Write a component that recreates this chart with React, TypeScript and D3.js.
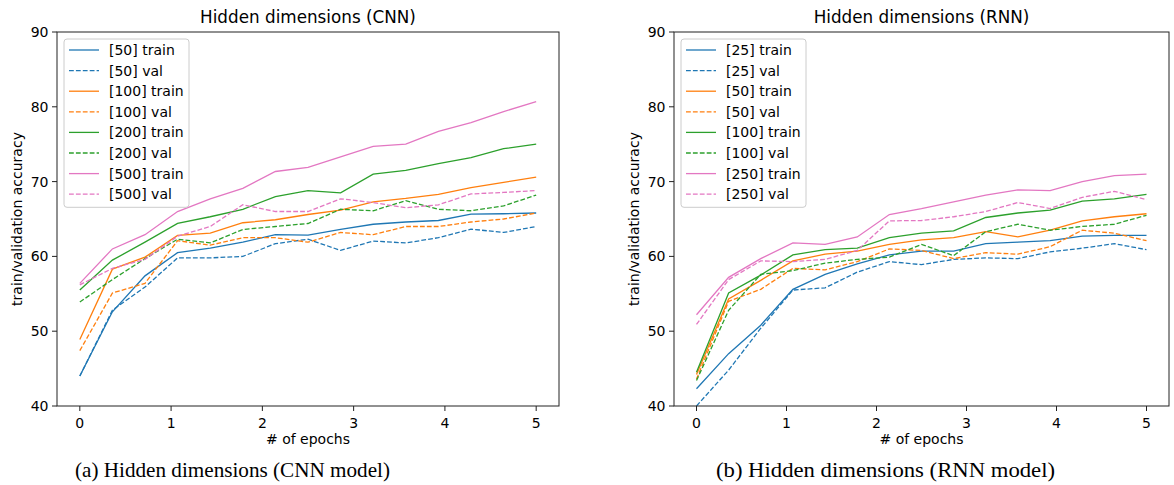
import React from "react";
import * as d3 from "d3";

const epochs = [0, 0.357, 0.714, 1.071, 1.429, 1.786, 2.143, 2.5, 2.857, 3.214, 3.571, 3.929, 4.286, 4.643, 5];
const xTicks = [0, 1, 2, 3, 4, 5];
const yTicks = [40, 50, 60, 70, 80, 90];

const cnnLabels = ["[50]", "[100]", "[200]", "[500]"];
const cnn50Train = [44.0, 52.6, 57.4, 60.5, 61.1, 61.9, 62.9, 62.85, 63.6, 64.3, 64.6, 64.8, 65.65, 65.7, 65.8];
const cnn50Val = [44.0, 52.8, 55.9, 59.8, 59.8, 60.0, 61.7, 62.3, 60.8, 62.05, 61.8, 62.5, 63.65, 63.2, 64.0];
const cnn100Train = [48.9, 58.3, 59.9, 62.8, 63.1, 64.5, 64.9, 65.6, 66.2, 67.3, 67.75, 68.3, 69.2, 69.9, 70.6];
const cnn100Val = [47.4, 55.1, 56.4, 62.1, 61.5, 62.5, 62.5, 61.9, 63.2, 62.9, 64.0, 64.0, 64.6, 65.0, 65.8];
const cnn200Train = [55.5, 59.5, 61.9, 64.4, 65.3, 66.3, 68.0, 68.8, 68.5, 71.0, 71.5, 72.4, 73.2, 74.4, 75.0];
const cnn200Val = [53.9, 56.9, 59.7, 62.3, 61.8, 63.6, 64.0, 64.4, 66.3, 66.1, 67.45, 66.3, 66.1, 66.75, 68.2];
const cnn500Train = [56.4, 61.0, 62.9, 66.0, 67.7, 69.1, 71.35, 71.9, 73.3, 74.7, 75.0, 76.7, 77.9, 79.35, 80.7];
const cnn500Val = [56.2, 58.4, 59.6, 62.7, 64.0, 66.9, 66.0, 66.0, 67.7, 67.2, 66.5, 66.9, 68.35, 68.55, 68.8];

const rnnLabels = ["[25]", "[50]", "[100]", "[250]"];
const rnn25Train = [42.3, 47.0, 50.8, 55.6, 57.6, 59.0, 60.2, 60.7, 60.7, 61.7, 61.9, 62.1, 62.7, 62.8, 62.8];
const rnn25Val = [40.0, 44.8, 50.4, 55.5, 55.8, 57.9, 59.3, 58.9, 59.6, 59.8, 59.7, 60.6, 61.1, 61.7, 60.9];
const rnn50Train = [44.2, 54.3, 56.8, 59.4, 60.3, 60.7, 61.6, 62.2, 62.5, 63.3, 62.6, 63.5, 64.75, 65.3, 65.7];
const rnn50Val = [43.6, 54.0, 55.6, 58.4, 58.2, 59.3, 61.0, 60.8, 59.7, 60.5, 60.3, 61.3, 63.5, 63.1, 62.1];
const rnn100Train = [44.5, 55.1, 57.5, 60.2, 60.9, 61.1, 62.5, 63.1, 63.4, 65.2, 65.8, 66.2, 67.4, 67.7, 68.3];
const rnn100Val = [43.4, 52.8, 57.6, 58.1, 59.1, 59.6, 59.9, 61.6, 60.1, 63.3, 64.3, 63.5, 64.0, 64.3, 65.5];
const rnn250Train = [52.2, 57.2, 59.7, 61.8, 61.6, 62.6, 65.6, 66.4, 67.3, 68.2, 68.9, 68.8, 70.0, 70.8, 71.0];
const rnn250Val = [50.9, 56.9, 59.4, 59.3, 59.6, 60.8, 64.75, 64.8, 65.3, 66.0, 67.2, 66.4, 67.9, 68.7, 67.6];

const colors = ["#1f77b4", "#ff7f0e", "#2ca02c", "#e377c2"];
const FONT = "DejaVu Sans, sans-serif";

type Series = { label: string; color: string; dashed: boolean; values: number[] };

function buildSeries(labels: string[], data: number[][]): Series[] {
  const out: Series[] = [];
  labels.forEach((l, k) => {
    out.push({ label: `${l} train`, color: colors[k], dashed: false, values: data[k * 2] });
    out.push({ label: `${l} val`, color: colors[k], dashed: true, values: data[k * 2 + 1] });
  });
  return out;
}

const cnnSeries = buildSeries(cnnLabels, [cnn50Train, cnn50Val, cnn100Train, cnn100Val, cnn200Train, cnn200Val, cnn500Train, cnn500Val]);
const rnnSeries = buildSeries(rnnLabels, [rnn25Train, rnn25Val, rnn50Train, rnn50Val, rnn100Train, rnn100Val, rnn250Train, rnn250Val]);

function Panel({ x0, x1, title, series }: { x0: number; x1: number; title: string; series: Series[] }) {
  const y0 = 32, y1 = 406;
  const xs = d3.scaleLinear().domain([-0.25, 5.25]).range([x0, x1]);
  const ys = d3.scaleLinear().domain([40, 90]).range([y1, y0]);
  const line = d3.line<number>().x((_, i) => xs(epochs[i])).y((v) => ys(v));
  const cx = (x0 + x1) / 2;
  const lx = x0 + 7;
  return (
    <g>
      <defs>
        <clipPath id={`clip-${x0}`}>
          <rect x={x0} y={y0} width={x1 - x0} height={y1 - y0} />
        </clipPath>
      </defs>
      <g clipPath={`url(#clip-${x0})`}>
        {series.map((s, i) => (
          <path key={i} d={line(s.values) || ""} fill="none" stroke={s.color} strokeWidth={1.3}
            strokeDasharray={s.dashed ? "4.8,2.1" : undefined} />
        ))}
      </g>
      <rect x={x0} y={y0} width={x1 - x0} height={y1 - y0} fill="none" stroke="#222" strokeWidth={1} />
      {yTicks.map((t) => (
        <g key={t}>
          <line x1={x0 - 5} x2={x0} y1={ys(t)} y2={ys(t)} stroke="#222" strokeWidth={1} />
          <text x={x0 - 8.5} y={ys(t)} dy="0.36em" textAnchor="end" fontFamily={FONT} fontSize={14} fill="#000">{t}</text>
        </g>
      ))}
      {xTicks.map((t) => (
        <g key={t}>
          <line x1={xs(t)} x2={xs(t)} y1={y1} y2={y1 + 5} stroke="#222" strokeWidth={1} />
          <text x={xs(t)} y={427.5} textAnchor="middle" fontFamily={FONT} fontSize={14} fill="#000">{t}</text>
        </g>
      ))}
      <text x={cx} y={23} textAnchor="middle" fontFamily={FONT} fontSize={16.8} fill="#000">{title}</text>
      <text x={cx} y={444} textAnchor="middle" fontFamily={FONT} fontSize={14} fill="#000"># of epochs</text>
      <text transform={`translate(${x0 - 40},${(y0 + y1) / 2}) rotate(-90)`} textAnchor="middle" dy="0.36em"
        fontFamily={FONT} fontSize={14} fill="#000">train/validation accuracy</text>
      <rect x={lx} y={39} width={125} height={168.3} rx={3} fill="#fff" fillOpacity={0.8} stroke="#ccc" strokeWidth={1} />
      {series.map((s, k) => {
        const ry = 50 + k * 20.6;
        return (
          <g key={k}>
            <line x1={lx + 5} x2={lx + 35} y1={ry} y2={ry} stroke={s.color} strokeWidth={1.3}
              strokeDasharray={s.dashed ? "4.8,2.1" : undefined} />
            <text x={lx + 45} y={ry} dy="0.36em" fontFamily={FONT} fontSize={14} fill="#000">{s.label}</text>
          </g>
        );
      })}
    </g>
  );
}

export default function App() {
  return (
    <svg width={1174} height={485} style={{ position: "absolute", left: 0, top: 0, background: "#fff" }}>
      <rect width={1174} height={485} fill="#fff" />
      <Panel x0={57} x1={559} title="Hidden dimensions (CNN)" series={cnnSeries} />
      <Panel x0={674} x1={1169} title="Hidden dimensions (RNN)" series={rnnSeries} />
      <text x={75} y={477} textLength={315} lengthAdjust="spacingAndGlyphs" fontFamily="Liberation Serif, serif" fontSize={21} fill="#000">(a) Hidden dimensions (CNN model)</text>
      <text x={716} y={477} textLength={339} lengthAdjust="spacingAndGlyphs" fontFamily="Liberation Serif, serif" fontSize={21} fill="#000">(b) Hidden dimensions (RNN model)</text>
    </svg>
  );
}
